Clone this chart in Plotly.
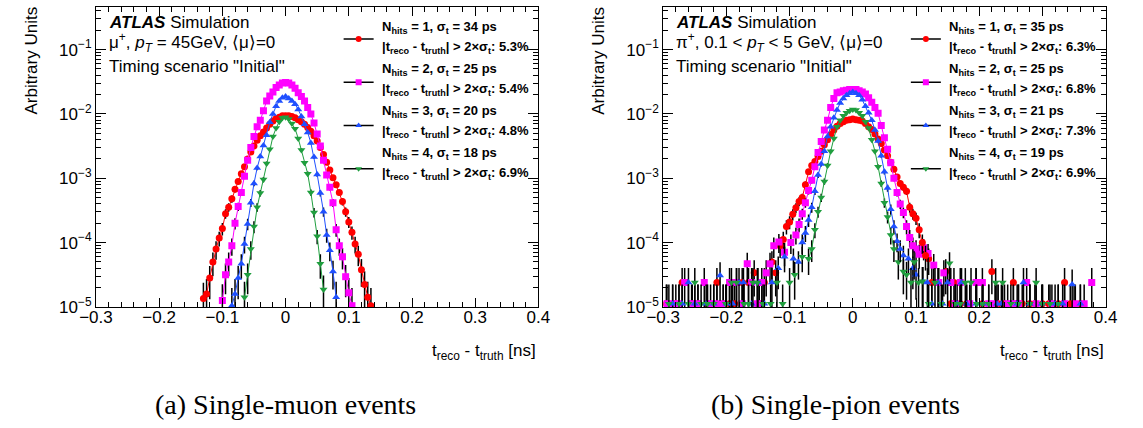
import plotly.graph_objects as go

W, H = 1143, 428
BIN = 0.005  # histogram bin width [ns]

# ---------------- single-muon events: log10(bin content) -------------
mu1_x0 = -0.130
mu1_log10 = [-4.87, -4.80, -4.55, -4.30, -4.10, -3.93, -3.78, -3.55, -3.45, -3.32, -3.17, -3.05, -2.93,
             -2.82, -2.70, -2.59, -2.50, -2.41, -2.34, -2.28, -2.22, -2.16, -2.11, -2.07, -2.05, -2.03,
             -2.03, -2.03, -2.04, -2.06, -2.09, -2.12, -2.16, -2.21, -2.27, -2.34, -2.42, -2.52, -2.63,
             -2.75, -2.87, -2.99, -3.10, -3.22, -3.36, -3.52, -3.68, -3.84, -4.02, -4.18, -4.42, -4.65,
             -4.85, -4.98]
mu2_x0 = -0.100
mu2_log10 = [-4.90, -4.50, -4.30, -4.05, -3.70, -3.44, -3.22, -2.97, -2.72, -2.52, -2.35, -2.20, -2.10,
             -1.95, -1.80, -1.72, -1.66, -1.59, -1.55, -1.52, -1.51, -1.52, -1.55, -1.60, -1.67, -1.73,
             -1.80, -1.90, -2.00, -2.14, -2.31, -2.50, -2.72, -2.95, -3.14, -3.38, -3.80, -4.05, -4.22,
             -4.53, -4.78, -4.98]
mu3_x0 = -0.085
mu3_log10 = [-4.98, -4.80, -4.55, -4.33, -4.02, -3.71, -3.38, -3.08, -2.84, -2.66, -2.49, -2.33, -2.13,
             -2.00, -1.88, -1.80, -1.75, -1.73, -1.76, -1.80, -1.85, -1.93, -2.04, -2.16, -2.29, -2.45,
             -2.67, -2.94, -3.23, -3.52, -3.88, -4.12, -4.45, -4.85]
mu4_x0 = -0.065
mu4_log10 = [-4.85, -4.50, -4.10, -3.75, -3.45, -3.23, -3.02, -2.77, -2.55, -2.35, -2.22, -2.12, -2.06,
             -2.05, -2.08, -2.15, -2.23, -2.38, -2.56, -2.76, -2.93, -3.22, -3.53, -3.90, -4.33, -4.73]

# ---------------- single-pion events: core of the distributions ----------------
pi1_x0 = -0.105
pi1_log10 = [-3.75, -3.68, -3.56, -3.46, -3.36, -3.30, -3.10, -2.90, -2.80, -2.74, -2.66, -2.58, -2.48,
             -2.40, -2.32, -2.25, -2.19, -2.15, -2.12, -2.10, -2.09, -2.08, -2.09, -2.10, -2.11, -2.15,
             -2.20, -2.24, -2.31, -2.39, -2.46, -2.56, -2.65, -2.75, -2.86, -2.98, -3.08, -3.14, -3.20,
             -3.45, -3.55, -3.62, -3.80, -4.00, -4.20]
pi2_x0 = -0.090
pi2_log10 = [-3.88, -3.72, -3.55, -3.38, -3.19, -3.03, -2.82, -2.60, -2.43, -2.25, -2.10, -1.90, -1.76,
             -1.67, -1.66, -1.64, -1.63, -1.62, -1.62, -1.62, -1.64, -1.66, -1.69, -1.75, -1.82, -1.90,
             -1.99, -2.18, -2.37, -2.55, -2.76, -3.00, -3.22, -3.40, -3.53, -3.75, -3.92, -4.05]
pi3_x0 = -0.080
pi3_log10 = [-4.00, -3.85, -3.65, -3.45, -3.20, -2.95, -2.78, -2.58, -2.35, -2.20, -2.06, -1.94, -1.83,
             -1.76, -1.71, -1.68, -1.66, -1.68, -1.71, -1.78, -1.88, -1.98, -2.10, -2.25, -2.42, -2.65,
             -2.90, -3.15, -3.48, -3.75, -3.98, -4.10]
pi4_x0 = -0.070
pi4_log10 = [-4.25, -4.10, -3.80, -3.52, -3.30, -3.05, -2.80, -2.58, -2.38, -2.20, -2.10, -2.03, -1.98,
             -1.95, -1.93, -1.94, -1.98, -2.03, -2.12, -2.22, -2.40, -2.58, -2.82, -3.08, -3.38, -3.60,
             -3.88, -4.10]

# ---------------- single-pion events: scattered tail entries ----------------
pi1_tail_x = [-0.295, -0.280, -0.270, -0.254, -0.245, -0.230, -0.215, -0.205, -0.195, -0.187,
              -0.175, -0.165, -0.156, -0.148, -0.140, -0.128, -0.122, -0.115, -0.110,
              0.120, 0.125, 0.135, 0.147, 0.155, 0.160, 0.170, 0.180, 0.195, 0.205, 0.220, 0.230,
              0.240, 0.254, 0.268, 0.280, 0.288, 0.300, 0.310, 0.325, 0.335, 0.344, 0.350, 0.360]
pi1_tail_log10 = [-4.95, -4.95, -4.62, -4.95, -4.95, -4.95, -4.62, -4.95, -4.95, -4.95,
                  -4.62, -4.62, -4.47, -4.95, -4.62, -4.30, -4.47, -4.05, -3.95,
                  -4.25, -4.62, -4.62, -4.45, -4.95, -4.62, -4.95, -4.95, -4.62, -4.95, -4.45, -4.95,
                  -4.95, -4.62, -4.95, -4.95, -4.95, -4.95, -4.95, -4.95, -4.62, -4.95, -4.95, -4.95]
pi2_tail_x = [-0.294, -0.285, -0.275, -0.266, -0.255, -0.245, -0.235, -0.225, -0.215, -0.205,
              -0.195, -0.184, -0.175, -0.167, -0.160, -0.151, -0.144, -0.137, -0.131, -0.125,
              -0.117, -0.108, -0.098,
              0.100, 0.105, 0.112, 0.119, 0.128, 0.136, 0.144, 0.155, 0.162, 0.170, 0.185, 0.195,
              0.205, 0.215, 0.225, 0.245, 0.254, 0.262, 0.275, 0.290, 0.315, 0.335, 0.352, 0.366, 0.378]
pi2_tail_log10 = [-4.95, -4.95, -4.95, -4.62, -4.95, -4.95, -4.62, -4.95, -4.95, -4.95,
                  -4.62, -4.62, -4.95, -4.33, -4.62, -4.95, -4.62, -4.47, -4.33, -4.05,
                  -3.99, -4.15, -4.00,
                  -4.10, -4.18, -4.08, -4.17, -4.35, -4.62, -4.47, -4.62, -4.95, -4.62, -4.95, -4.62,
                  -4.62, -4.95, -4.95, -4.95, -4.95, -4.95, -4.62, -4.95, -4.95, -4.95, -4.95, -4.95, -4.62]
pi3_tail_x = [-0.285, -0.270, -0.260, -0.250, -0.232, -0.220, -0.210, -0.200, -0.190, -0.180,
              -0.173, -0.160, -0.150, -0.140, -0.128, -0.118, -0.108, -0.094, -0.086,
              0.080, 0.088, 0.095, 0.100, 0.111, 0.118, 0.125, 0.135, 0.142, 0.150, 0.165, 0.172,
              0.180, 0.195, 0.206, 0.228, 0.235, 0.260, 0.270, 0.280, 0.299, 0.320, 0.332, 0.347, 0.360]
pi3_tail_log10 = [-4.95, -4.95, -4.62, -4.95, -4.95, -4.95, -4.51, -4.95, -4.95, -4.62,
                  -4.62, -4.95, -4.62, -4.95, -4.62, -4.40, -4.22, -4.25, -4.30,
                  -4.20, -4.25, -4.40, -4.50, -4.60, -4.62, -4.95, -4.62, -4.95, -4.62, -4.95, -4.62,
                  -4.95, -4.95, -4.95, -4.95, -4.95, -4.95, -4.62, -4.95, -4.95, -4.95, -4.95, -4.65, -4.95]
pi4_tail_x = [-0.291, -0.275, -0.260, -0.250, -0.240, -0.230, -0.220, -0.201, -0.192, -0.184,
              -0.172, -0.165, -0.158, -0.151, -0.142, -0.130, -0.120, -0.111, -0.100, -0.092, -0.080,
              0.072, 0.080, 0.085, 0.092, 0.097, 0.104, 0.110, 0.120, 0.130, 0.140, 0.153, 0.162,
              0.170, 0.178, 0.187, 0.196, 0.205, 0.215, 0.226, 0.237, 0.250, 0.262, 0.280, 0.290,
              0.300, 0.312, 0.325]
pi4_tail_log10 = [-4.95, -4.95, -4.95, -4.62, -4.95, -4.95, -4.95, -4.95, -4.62, -4.62,
                  -4.95, -4.95, -4.62, -4.62, -4.95, -4.95, -4.62, -4.95, -4.62, -4.50, -4.22,
                  -4.30, -4.45, -4.50, -4.62, -4.30, -4.62, -4.60, -4.95, -4.62, -4.95, -4.32, -4.95,
                  -4.95, -4.62, -4.62, -4.95, -4.95, -4.95, -4.62, -4.62, -4.95, -4.95, -4.95, -4.62,
                  -4.95, -4.95, -4.95]

# ---------------- legend texts ----------------
n_hits = ['1', '2', '3', '4']
mu_sigma = ['34', '25', '20', '18']
mu_frac = ['5.3%', '5.4%', '4.8%', '6.9%']
pi_sigma = ['35', '25', '21', '19']
pi_frac = ['6.3%', '6.8%', '7.3%', '6.9%']

x_ticks = [-0.3, -0.2, -0.1, 0.0, 0.1, 0.2, 0.3, 0.4]
x_ticktext = ['\u22120.3', '\u22120.2', '\u22120.1', '0', '0.1', '0.2', '0.3', '0.4']
y_decades = [-5, -4, -3, -2, -1]

# ---------------- style ----------------
COLORS = ['#ff0000', '#ff00ff', '#1f50ff', '#1f9e3e']
SYMBOLS = ['circle', 'square', 'triangle-up', 'triangle-down']
MSIZE = [7, 7, 7, 7]
SANS = 'Liberation Sans, Arial, sans-serif'
SERIF = 'Liberation Serif, Times New Roman, serif'

# frame positions (pixels)
FR_L = [81, 663]
FR_R = [535, 1117]
FR_T, FR_B = 7.3, 314.3


def centers(x0, vals):
    return [round(x0 + BIN * i, 4) for i in range(len(vals))]


def errs(vals, unit):
    up, dn = [], []
    for v in vals:
        e = (v * unit) ** 0.5
        up.append(e)
        dn.append(min(e, 0.97 * v))
    return up, dn


fig = go.Figure()

mu_sets = [(mu1_x0, mu1_log10), (mu2_x0, mu2_log10), (mu3_x0, mu3_log10), (mu4_x0, mu4_log10)]
pi_sets = [(pi1_x0, pi1_log10), (pi2_x0, pi2_log10), (pi3_x0, pi3_log10), (pi4_x0, pi4_log10)]
pi_tails = [(pi1_tail_x, pi1_tail_log10), (pi2_tail_x, pi2_tail_log10),
            (pi3_tail_x, pi3_tail_log10), (pi4_tail_x, pi4_tail_log10)]

# pion tails (markers only)
for i, (tx, tl) in enumerate(pi_tails):
    n = min(len(tx), len(tl))
    ty = [10 ** v for v in tl[:n]]
    up, dn = errs(ty, 1.1e-5)
    fig.add_trace(go.Scatter(
        x=tx[:n], y=ty, mode='markers', xaxis='x2', yaxis='y2', showlegend=False,
        marker=dict(symbol=SYMBOLS[i], color=COLORS[i], size=MSIZE[i], line=dict(width=0)),
        error_y=dict(type='data', array=up, arrayminus=dn, color='black', thickness=1.5, width=0)))

for panel, sets, unit in ((0, mu_sets, 8e-6), (1, pi_sets, 1.1e-5)):
    xa, ya = ('x', 'y') if panel == 0 else ('x2', 'y2')
    for i, (x0, lv) in enumerate(sets):
        xs = centers(x0, lv)
        ys = [10 ** v for v in lv]
        up, dn = errs(ys, unit)
        fig.add_trace(go.Scatter(
            x=xs, y=ys, mode='lines+markers', xaxis=xa, yaxis=ya, showlegend=False,
            line=dict(color=COLORS[i], width=1),
            marker=dict(symbol=SYMBOLS[i], color=COLORS[i], size=MSIZE[i], line=dict(width=0)),
            error_y=dict(type='data', array=up, arrayminus=dn, color='black', thickness=1.5, width=0)))

# legend symbols (black line, coloured marker)
for panel, lg in ((0, 'legend'), (1, 'legend2')):
    for i in range(4):
        fig.add_trace(go.Scatter(
            x=[None], y=[None], mode='lines+markers', name=' ', legend=lg,
            xaxis='x' if panel == 0 else 'x2', yaxis='y' if panel == 0 else 'y2',
            line=dict(color='black', width=1.5),
            marker=dict(symbol=SYMBOLS[i], color=COLORS[i], size=6, line=dict(width=0))))

# ---------------- axes ----------------
minor_y = []
for d in range(-5, 0):
    for m in range(2, 10):
        minor_y.append(m * 10 ** d)
minor_y += [2e-1, 3e-1, 4e-1]
y_tickvals = [10 ** d for d in y_decades]
y_ticktext = ['10<sup>\u2212%d</sup>' % (-d) for d in y_decades]

ydom = [1 - FR_B / H, 1 - FR_T / H]
axis_common = dict(showline=True, linecolor='black', linewidth=1, mirror='ticks', ticks='inside',
                   tickcolor='black', tickwidth=1, showgrid=False, zeroline=False,
                   tickfont=dict(family=SANS, size=17, color='black'))
layout = dict(width=W, height=H, autosize=False, margin=dict(l=0, r=0, t=0, b=0),
              paper_bgcolor='white', plot_bgcolor='white', showlegend=True)
for p in range(2):
    sx = '' if p == 0 else '2'
    layout['xaxis' + sx] = dict(axis_common, domain=[FR_L[p] / W, FR_R[p] / W], range=[-0.3, 0.4],
                                anchor='y' + sx, tickvals=x_ticks, ticktext=x_ticktext, ticklen=9,
                                ticklabelstandoff=-5,
                                minor=dict(dtick=0.02, tick0=0, ticks='inside', ticklen=5,
                                           tickcolor='black', showgrid=False))
    layout['yaxis' + sx] = dict(axis_common, domain=ydom, type='log', range=[-5, -0.34],
                                anchor='x' + sx, tickvals=y_tickvals, ticktext=y_ticktext, ticklen=10,
                                minor=dict(tickvals=minor_y, ticks='inside', ticklen=5,
                                           tickcolor='black', showgrid=False))

LEG_H = 43.0
for p, key in ((0, 'legend'), (1, 'legend2')):
    layout[key] = dict(x=(FR_L[p] + 249) / W, y=1 - 12.6 / H, xanchor='left', yanchor='top',
                       bgcolor='rgba(0,0,0,0)', borderwidth=0, font=dict(size=31, family=SANS),
                       itemwidth=30, tracegroupgap=0, traceorder='normal')
fig.update_layout(**layout)


def ann(text, xpx, ypx, size, xanchor='left', yanchor='middle', family=SANS, angle=0):
    return dict(text=text, x=xpx / W, y=1 - ypx / H, xref='paper', yref='paper', xanchor=xanchor,
                yanchor=yanchor, showarrow=False, textangle=angle,
                font=dict(family=family, size=size, color='black'))


annotations = []
info_line2 = ['\u03bc<sup>+</sup>, <i>p</i><sub><i>T</i></sub> = 45GeV, \u27e8\u03bc\u27e9=0',
              '\u03c0<sup>+</sup>, 0.1 &lt; <i>p</i><sub><i>T</i></sub> &lt; 5 GeV, \u27e8\u03bc\u27e9=0']
captions = ['(a) Single-muon events', '(b) Single-pion events']
caption_x = [275, 840]
for p in range(2):
    L = FR_L[p]
    annotations.append(ann('<b><i>ATLAS</i></b> Simulation', L + 11, 22.7, 17))
    annotations.append(ann(info_line2[p], L + 11, 43.5, 17))
    annotations.append(ann('Timing scenario "Initial"', L + 11, 68.5, 17))
    sig = mu_sigma if p == 0 else pi_sigma
    frac = mu_frac if p == 0 else pi_frac
    for k in range(4):
        annotations.append(ann('<b>N<sub>hits</sub> = %s, \u03c3<sub>t</sub> = %s ps</b>' % (n_hits[k], sig[k]),
                               L + 291, 28 + LEG_H * k, 13))
        annotations.append(ann('<b>|t<sub>reco</sub> - t<sub>truth</sub>| &gt; 2\u00d7\u03c3<sub>t</sub>: %s</b>' % frac[k],
                               L + 291, 48.7 + LEG_H * k, 13))
    annotations.append(ann('Arbitrary Units', L - 66, 5, 17, xanchor='center', yanchor='top', angle=-90))
    annotations.append(ann('t<sub>reco</sub> - t<sub>truth</sub> [ns]', FR_R[p], 360, 17, xanchor='right'))
    annotations.append(ann(captions[p], caption_x[p], 414, 28, xanchor='center', family=SERIF))
fig.update_layout(annotations=annotations)

fig.write_html('out.html', config={'displayModeBar': False},
               post_script="document.body.style.margin='0px';document.body.style.overflow='hidden';")
